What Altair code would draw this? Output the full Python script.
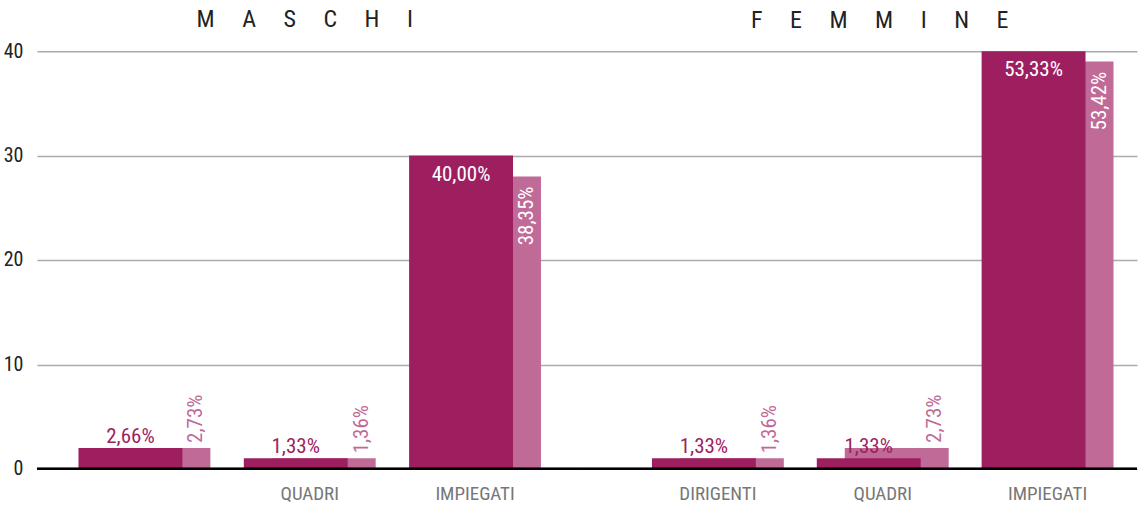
import altair as alt
import pandas as pd

categories = ["DIRIGENTI", "QUADRI", "IMPIEGATI"]

# headcount per category: first series (dark) and second series (light)
maschi_a = [2, 1, 30]
maschi_b = [2, 1, 28]
femmine_a = [1, 1, 40]
femmine_b = [1, 2, 39]

# share of the total, as printed on the bars
maschi_a_pct = ["2,66%", "1,33%", "40,00%"]
maschi_b_pct = ["2,73%", "1,36%", "38,35%"]
femmine_a_pct = ["1,33%", "1,33%", "53,33%"]
femmine_b_pct = ["1,36%", "2,73%", "53,42%"]

y_ticks = [0, 10, 20, 30, 40]

DARK = "#9E1F5F"
LIGHT = "#C06A98"
FONT = "'Roboto Condensed', 'DejaVu Sans Condensed', sans-serif"
NBSP = "\u00a0" * 5


def spaced(word):
    return NBSP.join(list(word))


def panel(a, b, pa, pb, title, width, pad_outer, align, left, title_dx, title_offset,
          hide_label=None):
    df = pd.DataFrame({"cat": categories, "a": a, "b": b, "pa": pa, "pb": pb})

    label_expr = "datum.value"
    if hide_label:
        label_expr = f"datum.value == '{hide_label}' ? '' : datum.value"

    x = alt.X(
        "cat:N",
        sort=categories,
        scale=alt.Scale(domain=categories, paddingInner=0, paddingOuter=pad_outer, align=align),
        axis=alt.Axis(
            title=None, ticks=False, tickSize=0, domain=False, labelAngle=0,
            labelFont=FONT, labelFontSize=19, labelColor="#777777",
            labelPadding=16, labelExpr=label_expr,
        ),
    )
    if left:
        yaxis = alt.Axis(
            title=None, values=y_ticks, grid=True, gridColor="#ABABAB", gridWidth=1.5,
            domain=False, ticks=False, labelFont=FONT, labelFontSize=20,
            labelColor="#222222", labelPadding=14, minExtent=37, maxExtent=37,
        )
    else:
        yaxis = alt.Axis(
            title=None, values=y_ticks, grid=True, gridColor="#ABABAB", gridWidth=1.5,
            domain=False, ticks=False, labels=False, minExtent=0, maxExtent=0,
        )
    yscale = alt.Scale(domain=[0, 40], nice=False)

    base = alt.Chart(df)

    light = base.mark_bar(color=LIGHT, width=104, xOffset=14).encode(
        x=x, y=alt.Y("b:Q", scale=yscale, axis=yaxis)
    )
    dark = base.mark_bar(color=DARK, width=104, xOffset=-14).encode(
        x=x, y=alt.Y("a:Q", scale=yscale, axis=yaxis)
    )
    zero = base.mark_rule(color="black", strokeWidth=2).encode(y=alt.datum(0))

    dark_out = base.transform_filter("datum.a < 10").mark_text(
        font=FONT, fontSize=21, color=DARK, baseline="alphabetic", xOffset=-14, yOffset=-5
    ).encode(x=x, y=alt.Y("a:Q", scale=yscale), text="pa:N")
    dark_in = base.transform_filter("datum.a >= 10").mark_text(
        font=FONT, fontSize=21, color="white", baseline="top", xOffset=-14, yOffset=8
    ).encode(x=x, y=alt.Y("a:Q", scale=yscale), text="pa:N")
    light_out = base.transform_filter("datum.b < 10").mark_text(
        font=FONT, fontSize=21, color=LIGHT, angle=270, align="left", baseline="middle",
        xOffset=52, yOffset=-5
    ).encode(x=x, y=alt.Y("b:Q", scale=yscale), text="pb:N")
    light_in = base.transform_filter("datum.b >= 10").mark_text(
        font=FONT, fontSize=21, color="white", angle=270, align="right", baseline="middle",
        xOffset=52, yOffset=10
    ).encode(x=x, y=alt.Y("b:Q", scale=yscale), text="pb:N")

    return alt.layer(light, dark, zero, dark_out, dark_in, light_out, light_in).properties(
        width=width,
        height=418,
        title=alt.TitleParams(
            text=spaced(title), font=FONT, fontSize=24, fontWeight="normal",
            color="#222222", anchor="middle", baseline="top", offset=title_offset,
            dx=title_dx, frame="group",
        ),
    )


maschi = panel(maschi_a, maschi_b, maschi_a_pct, maschi_b_pct, "MASCHI",
               546, 0.15, 0.5, True, -5, 9, hide_label="DIRIGENTI")
femmine = panel(femmine_a, femmine_b, femmine_a_pct, femmine_b_pct, "FEMMINE",
                555, 0.182, 0.883, False, 20, 18)

chart = alt.hconcat(maschi, femmine, spacing=0, bounds="flush").properties(
    padding={"left": 0, "right": 0, "top": 8, "bottom": 0},
    background="white",
).configure_view(stroke=None)

chart.save("out.html", embed_options={"renderer": "svg", "actions": False})
